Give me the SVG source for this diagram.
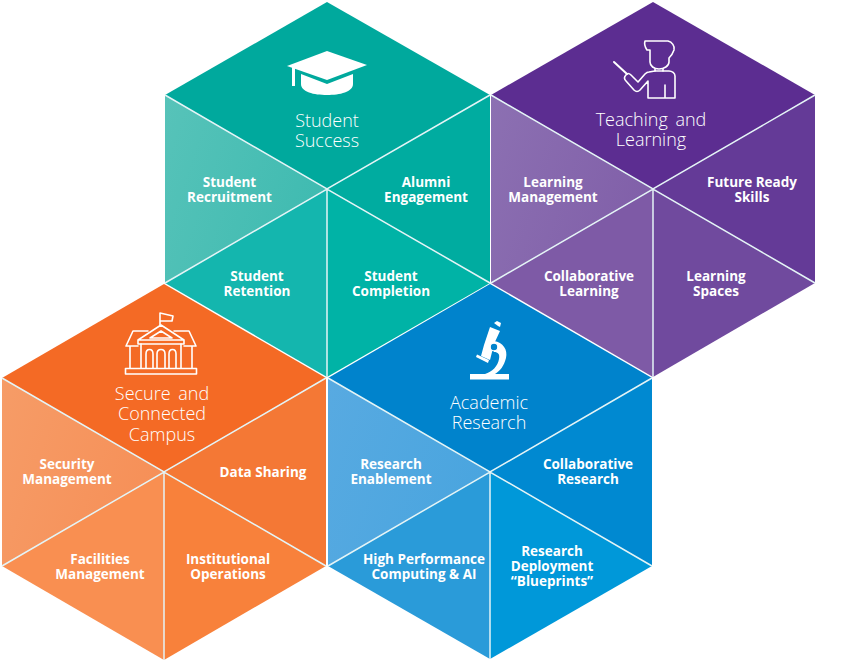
<svg xmlns="http://www.w3.org/2000/svg" width="846" height="661" viewBox="0 0 846 661">
<style>
.t{font-family:"Open Sans","Noto Sans","Liberation Sans",sans-serif;fill:#fff;text-anchor:middle}
.s{font-size:13.5px;font-weight:700}
.h{font-size:18px;font-weight:300;word-spacing:3px}
.ln{fill:none;stroke:#fff;stroke-width:1.6;stroke-linejoin:round;stroke-linecap:round}
.sep{stroke:#e4f4f6;stroke-width:1.5;fill:none}
</style>
<defs>
<linearGradient id="a1" x1="0" y1="0" x2="1" y2="0.4"><stop offset="0" stop-color="#57c3b9"/><stop offset="1" stop-color="#40bbb1"/></linearGradient>
<linearGradient id="a2" x1="0" y1="0" x2="1" y2="0.4"><stop offset="0" stop-color="#8c70b2"/><stop offset="1" stop-color="#8160a9"/></linearGradient>
<linearGradient id="a3" x1="0" y1="0" x2="1" y2="0.4"><stop offset="0" stop-color="#f69c67"/><stop offset="1" stop-color="#f69058"/></linearGradient>
<linearGradient id="a4" x1="0" y1="0" x2="1" y2="0.4"><stop offset="0" stop-color="#58aae1"/><stop offset="1" stop-color="#4aa5df"/></linearGradient>
</defs>

<g id="student-success">
<polygon points="327,2 490,95 327,189 165,95" fill="#00a99d"/>
<polygon points="165,95 327,189 165,283" fill="url(#a1)"/>
<polygon points="165,283 327,189 327,377" fill="#14b6ae"/>
<polygon points="327,189 490,283 327,377" fill="#00b3a6"/>
<polygon points="327,189 490,95 490,283" fill="#00aca0"/>
<path class="sep" d="M165,95 327,189 490,95M165,283 327,189 490,283M327,189V377"/>
<g fill="#fff">
<polygon points="327,51 367,65 327,80 287,66"/>
<path d="M301,74 327,84 353,74V84C353,92 340,95 327,95 314,95 301,92 301,84Z"/>
<rect x="292" y="67" width="3" height="19"/>
</g>
<text class="t h" x="327" y="127">Student<tspan x="327" dy="20">Success</tspan></text>
<text class="t s" x="229.500" y="187">Student<tspan x="229.500" dy="15">Recruitment</tspan></text>
<text class="t s" x="257" y="281">Student<tspan x="257" dy="15">Retention</tspan></text>
<text class="t s" x="391" y="281">Student<tspan x="391" dy="15">Completion</tspan></text>
<text class="t s" x="426" y="187">Alumni<tspan x="426" dy="15">Engagement</tspan></text>
</g>

<g id="teaching-and-learning">
<polygon points="653,2 815,95 653,189 491,95" fill="#5c2d91"/>
<polygon points="491,95 653,189 491,283" fill="url(#a2)"/>
<polygon points="491,283 653,189 653,377" fill="#7e5aa6"/>
<polygon points="653,189 815,283 653,377" fill="#704a9e"/>
<polygon points="653,189 815,95 815,283" fill="#643a97"/>
<path class="sep" d="M491,95 653,189 815,95M491,283 653,189 815,283M653,189V377"/>
<g class="ln">
<path d="M645,41H668C672,42 675,46 674,50 673,53 671,56 669,58V62C669,66 664,69 659,69 654,69 650,66 650,62V50H647C645,47 644,44 645,41Z"/>
<path d="M655,69V71H663V69"/>
<path d="M655,71 649,72C647,72 646,73 645,74L638,82 631,75C629,73 627,73 626,75 624,77 624,79 626,81L634,90C636,92 638,92 640,90L648,81V98H675V76C675,73 672,71 669,71H663M665,85V98"/>
<path d="M614,62 627,74" stroke-width="2"/>
</g>
<text class="t h" x="651" y="126">Teaching and<tspan x="651" dy="20">Learning</tspan></text>
<text class="t s" x="553" y="187">Learning<tspan x="553" dy="15">Management</tspan></text>
<text class="t s" x="589" y="281">Collaborative<tspan x="589" dy="15">Learning</tspan></text>
<text class="t s" x="716" y="281">Learning<tspan x="716" dy="15">Spaces</tspan></text>
<text class="t s" x="752" y="187">Future Ready<tspan x="752" dy="15">Skills</tspan></text>
</g>

<g id="secure-and-connected-campus">
<polygon points="164,284 326,378 164,472 2,378" fill="#f46a25"/>
<polygon points="2,378 164,472 2,566" fill="url(#a3)"/>
<polygon points="2,566 164,472 164,660" fill="#f98f51"/>
<polygon points="164,472 326,566 164,660" fill="#f8813b"/>
<polygon points="164,472 326,378 326,566" fill="#f47835"/>
<path class="sep" d="M2,378 164,472 326,378M2,566 164,472 326,566M164,472V660"/>
<g class="ln">
<path d="M160,325V313L173,316 172,321 160,321"/>
<path d="M161,325 138,340H184ZM138,340V344H184V340M161,331 150,338H172Z"/>
<path d="M141,344V368M181,344V368"/>
<path d="M148,331H133L126,346H138M174,331H189L196,346H184M130,346V368M192,346V368"/>
<path d="M146,368V354C146,348 153,348 153,354V368M157,368V354C157,348 165,348 165,354V368M169,368V354C169,348 176,348 176,354V368"/>
<rect x="125.500" y="368.500" width="71" height="5.500"/>
</g>
<text class="t h" x="162" y="400">Secure and<tspan x="162" dy="20">Connected</tspan><tspan x="162" dy="21">Campus</tspan></text>
<text class="t s" x="67" y="469">Security<tspan x="67" dy="15">Management</tspan></text>
<text class="t s" x="100" y="564">Facilities<tspan x="100" dy="15">Management</tspan></text>
<text class="t s" x="228" y="564">Institutional<tspan x="228" dy="15">Operations</tspan></text>
<text class="t s" x="263" y="477">Data Sharing</text>
</g>

<g id="academic-research">
<polygon points="490,284 652,378 490,472 328,378" fill="#0083cc"/>
<polygon points="328,378 490,472 328,566" fill="url(#a4)"/>
<polygon points="328,566 490,472 490,659" fill="#2a9bd9"/>
<polygon points="490,472 652,566 490,659" fill="#0098d9"/>
<polygon points="490,472 652,378 652,566" fill="#0089d1"/>
<path class="sep" d="M328,378 490,472 652,378M328,566 490,472 652,566M490,472V659"/>
<g fill="#fff">
<rect x="470" y="374" width="39" height="5.500"/>
<polygon points="494,323 497,321 501,323 500,327 498,326"/>
<polygon points="490,327 500,331 494,344 490,360 481,356 484,345"/>
<path d="M494,341C503,342 508,350 506,358 504,366 500,371 495,374H485C492,372 498,366 499,359 500,354 498,352 494,352Z"/>
<polygon points="476,357 477,354.500 489,360 488,363"/>
<circle cx="494" cy="347" r="3.800" fill="#0083cc" stroke="#fff" stroke-width="1.200"/>
</g>
<text class="t h" x="489" y="409">Academic<tspan x="489" dy="20">Research</tspan></text>
<text class="t s" x="391" y="469">Research<tspan x="391" dy="15">Enablement</tspan></text>
<text class="t s" x="424" y="564">High Performance<tspan x="424" dy="15">Computing &amp; AI</tspan></text>
<text class="t s" x="552" y="556">Research<tspan x="552" dy="15">Deployment</tspan><tspan x="552" dy="15">“Blueprints”</tspan></text>
<text class="t s" x="588" y="469">Collaborative<tspan x="588" dy="15">Research</tspan></text>
</g>
</svg>
